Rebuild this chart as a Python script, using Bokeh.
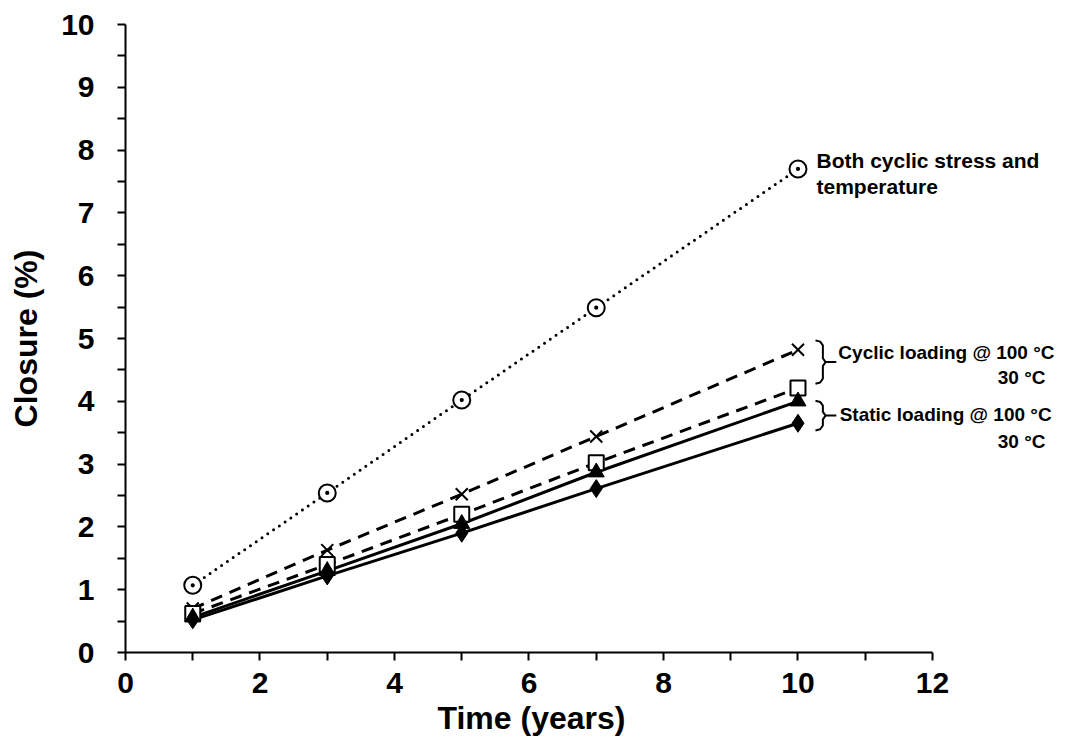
from bokeh.plotting import figure
from bokeh.models import Range1d, FixedTicker, Title
from bokeh.core.properties import value
from bokeh.embed import file_html
from bokeh.resources import INLINE

# Time in years and closure (%) for each loading case
years = [1, 3, 5, 7, 10]
both_cyclic_temp = [1.07, 2.54, 4.02, 5.49, 7.70]
cyclic_100 = [0.70, 1.63, 2.52, 3.44, 4.82]
cyclic_30 = [0.62, 1.40, 2.20, 3.02, 4.21]
static_100 = [0.56, 1.30, 2.05, 2.87, 4.00]
static_30 = [0.52, 1.22, 1.90, 2.61, 3.65]

x_ticks = [0, 2, 4, 6, 8, 10, 12]
x_minor = [1, 3, 5, 7, 9, 11]
y_ticks = list(range(0, 11))
y_minor = [i + 0.5 for i in range(10)]

FONT = "Liberation Sans"
INK = "#000000"

p = figure(width=1090, height=756, output_backend="svg", toolbar_location=None,
           x_range=Range1d(0, 14.305), y_range=Range1d(0, 10),
           min_border_left=125, min_border_right=3, min_border_top=24, min_border_bottom=104)
p.outline_line_color = None
p.grid.visible = False
p.background_fill_color = "white"
p.border_fill_color = "white"

for ax in (p.xaxis[0], p.yaxis[0]):
    ax.axis_line_width = 2
    ax.axis_line_color = INK
    ax.major_tick_line_width = 2
    ax.minor_tick_line_width = 2
    ax.major_tick_line_color = INK
    ax.minor_tick_line_color = INK
    ax.major_tick_in = 0
    ax.minor_tick_in = 0
    ax.major_tick_out = 8
    ax.minor_tick_out = 8
    ax.major_label_text_font = FONT
    ax.major_label_text_font_style = "bold"
    ax.major_label_text_font_size = "30px"
    ax.major_label_text_color = INK
    ax.axis_label_text_font = FONT
    ax.axis_label_text_font_style = "bold"
    ax.axis_label_text_font_size = "32px"
    ax.axis_label_text_color = INK

# x axis spans 0-12 only; the extra room on the right holds the annotations
p.xaxis.bounds = (0, 12)
p.xaxis.ticker = FixedTicker(ticks=x_ticks, minor_ticks=x_minor)
p.xaxis.major_label_standoff = 12
p.yaxis.ticker = FixedTicker(ticks=y_ticks, minor_ticks=y_minor)
p.yaxis.axis_label = "Closure (%)"
p.yaxis.major_label_standoff = 23
p.yaxis.axis_label_standoff = 14

# x axis title centred under the 0-12 axis line
p.add_layout(Title(text="Time (years)", align="left", offset=312, standoff=4,
                   text_font=FONT, text_font_style="bold", text_font_size="32px",
                   text_color=INK), "below")

# Series lines
p.line(years, both_cyclic_temp, line_color=INK, line_width=3, line_dash="0 7", line_cap="round")
p.line(years, cyclic_100, line_color=INK, line_width=3, line_dash="12 8")
p.line(years, cyclic_30, line_color=INK, line_width=3, line_dash="12 8")
p.line(years, static_100, line_color=INK, line_width=3)
p.line(years, static_30, line_color=INK, line_width=3)

# Series markers
p.scatter(years, both_cyclic_temp, marker="circle_dot", size=17, fill_color="white",
          line_color=INK, line_width=2)
p.scatter(years, cyclic_100, marker="x", size=17, line_color=INK, line_width=2)
p.scatter(years, cyclic_30, marker="square", size=15, fill_color="white", line_color=INK, line_width=2)
p.scatter(years, static_100, marker="triangle", size=16, fill_color=INK, line_color=INK)
p.scatter(years, static_30, marker="diamond", size=18, fill_color=INK, line_color=INK)


def brace(top, bottom):
    """Right-facing curly bracket between two y values."""
    mid = (top + bottom) / 2
    xl, xv, tip = 10.26, 10.37, 10.57
    xs = [xl, xv - 0.04, xv, xv, xv + 0.04, tip, xv + 0.04, xv, xv, xv - 0.04, xl]
    ys = [top, top - 0.02, top - 0.08, mid + 0.06, mid, mid, mid, mid - 0.06,
          bottom + 0.08, bottom + 0.02, bottom]
    p.line(xs, ys, line_color=INK, line_width=2)


brace(4.97, 4.28)
brace(4.01, 3.535)

label_style = dict(text_font=value(FONT), text_font_style="bold",
                   text_color=INK, text_baseline="middle")
p.text(x=[10.275, 10.275], y=[7.83, 7.42], text=["Both cyclic stress and", "temperature"],
       text_align="left", text_font_size="21px", **label_style)
p.text(x=[10.60, 10.62], y=[4.78, 3.79], text=["Cyclic loading @ 100 °C", "Static loading @ 100 °C"],
       text_align="left", text_font_size="19px", **label_style)
p.text(x=[13.68, 13.68], y=[4.38, 3.36], text=["30 °C", "30 °C"], text_align="right",
       text_font_size="19px", **label_style)

open("out.html", "w").write(file_html(p, INLINE))
